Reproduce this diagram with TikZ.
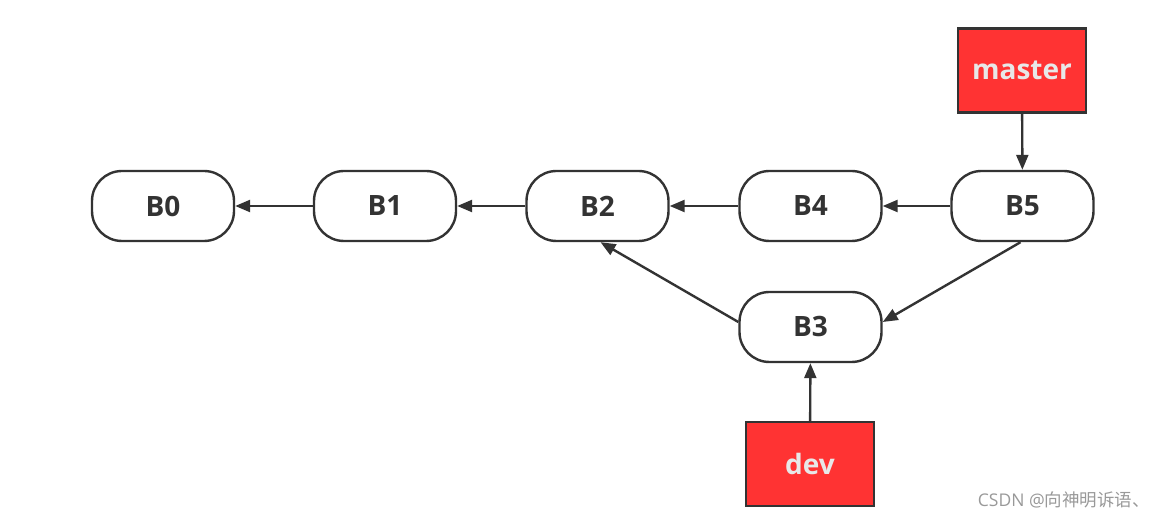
\documentclass[tikz,border=0pt]{standalone}
\usepackage{fontspec}
\setmainfont{Open Sans}
\newfontfamily\boldsans{Open Sans Bold}
\newfontfamily\cjk{Noto Sans CJK SC}
\usetikzlibrary{arrows.meta}
\definecolor{ink}{HTML}{333333}
\definecolor{redbox}{HTML}{FF3333}
\definecolor{pale}{HTML}{E8E8E8}
\begin{document}
\begin{tikzpicture}[x=1pt,y=1pt,
  commit/.style={draw=ink, line width=2.4pt, rounded corners=30pt, minimum width=142pt, minimum height=70pt, inner sep=0pt, text=ink, font=\boldsans\fontsize{28}{30}\selectfont},
  branch/.style={draw=ink, line width=2.4pt, fill=redbox, minimum width=128pt, minimum height=84pt, inner sep=0pt, text=pale, font=\boldsans\fontsize{28}{30}\selectfont},
  link/.style={draw=ink, line width=2.4pt, -{Triangle[length=15pt,width=12pt]}}]
\useasboundingbox (0,0) rectangle (1159,522);
\node[commit] (B0) at (163,316) {B0};
\node[commit] (B1) at (385,316) {B1};
\node[commit] (B2) at (597.5,316) {B2};
\node[commit] (B4) at (810.5,316) {B4};
\node[commit] (B5) at (1022.5,316) {B5};
\node[commit] (B3) at (810.5,195) {B3};
\node[branch] (master) at (1022,451.5) {master};
\node[branch] (dev) at (810,58) {dev};
\draw[link] (B1) -- (B0);
\draw[link] (B2) -- (B1);
\draw[link] (B4) -- (B2);
\draw[link] (B5) -- (B4);
\draw[link] (master) -- (B5);
\draw[link] (dev) -- (B3);
\draw[link] ([xshift=-2pt]B5.south) -- ([yshift=5pt]B3.east);
\draw[link] ([yshift=5pt]B3.west) -- ([xshift=3pt]B2.south);
\node[anchor=east, text=gray!80, font=\fontsize{17.5}{20}\selectfont, inner sep=0pt] (wm) at (1150,22) {CSDN @{\cjk 向神明诉语、}};
\end{tikzpicture}
\end{document}
